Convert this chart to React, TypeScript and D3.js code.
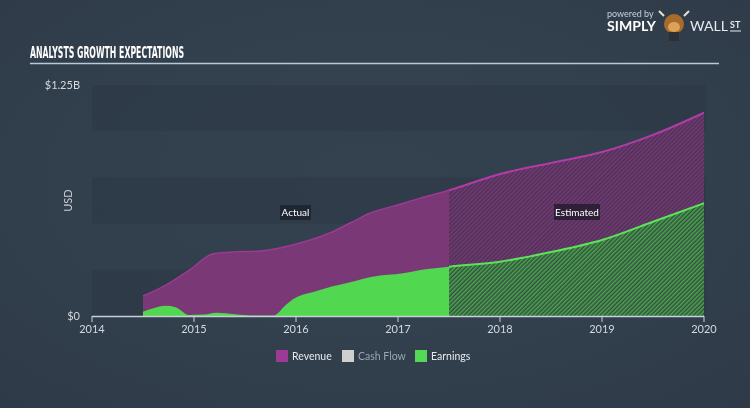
import React from 'react';
import * as d3 from 'd3';

// revenue + earnings (USD billions), actual up to mid 2017, estimates after
const dates = [2014.5, 2014.7, 2014.96, 2015.18, 2015.35, 2015.65, 2015.84, 2016.04, 2016.33, 2016.53, 2016.73, 2017.02, 2017.22, 2017.5, 2018, 2018.5, 2019, 2019.5, 2020];
const revenue = [0.108, 0.16, 0.25, 0.335, 0.345, 0.352, 0.368, 0.395, 0.449, 0.503, 0.557, 0.605, 0.638, 0.68, 0.768, 0.828, 0.887, 0.98, 1.10];

const earnDates = [2014.5, 2014.62, 2014.72, 2014.82, 2014.95, 2015.1, 2015.22, 2015.4, 2015.6, 2015.78, 2015.9, 2015.97, 2016.05, 2016.17, 2016.35, 2016.55, 2016.75, 2017.05, 2017.22, 2017.5, 2018, 2018.5, 2019, 2019.5, 2020];
const earnings = [0.023, 0.045, 0.055, 0.048, 0.006, 0.008, 0.018, 0.01, 0.003, 0.003, 0.06, 0.09, 0.112, 0.13, 0.159, 0.186, 0.213, 0.231, 0.249, 0.267, 0.294, 0.346, 0.411, 0.51, 0.61];

const estimateStart = 2017.5;
const yearTicks = [2014, 2015, 2016, 2017, 2018, 2019, 2020];
const yTickValues = [0, 1.25];
const yTickLabels = ['$0', '$1.25B'];
const legendItems = [
  { name: 'Revenue', color: '#9c3a96', text: '#e6eaee' },
  { name: 'Cash Flow', color: '#cfcfcf', text: '#9aa6b1' },
  { name: 'Earnings', color: '#55d855', text: '#e6eaee' },
];

const W = 750;
const H = 408;
const font = 'Lato, "Open Sans", sans-serif';

export default function App() {
  const x = d3.scaleLinear().domain([2014, 2020]).range([92, 704]);
  const y = d3.scaleLinear().domain([0, 1.25]).range([316, 85]);

  const revPts = dates.map((d, i) => [d, revenue[i]] as [number, number]);
  const earnPts = earnDates.map((d, i) => [d, earnings[i]] as [number, number]);

  const area = d3.area<[number, number]>()
    .x(d => x(d[0]))
    .y0(y(0))
    .y1(d => y(d[1]))
    .curve(d3.curveMonotoneX);
  const line = d3.line<[number, number]>()
    .x(d => x(d[0]))
    .y(d => y(d[1]))
    .curve(d3.curveMonotoneX);

  const xs = x(estimateStart);
  // background bands
  const bands = d3.range(5);
  const bandH = (y(0) - y(1.25)) / 5;

  return (
    <div style={{ position: 'fixed', left: 0, top: 0 }}>
      <svg width={W} height={H} style={{ display: 'block' }}>
        <defs>
          <radialGradient id="bg" cx="50%" cy="45%" r="75%">
            <stop offset="0%" stopColor="#374554" />
            <stop offset="100%" stopColor="#2e3a47" />
          </radialGradient>
          <pattern id="hatchRev" width="3" height="3" patternUnits="userSpaceOnUse" patternTransform="rotate(45)">
            <rect width="3" height="3" fill="#4b3153" />
            <rect width="1.5" height="3" fill="#763a76" />
          </pattern>
          <pattern id="hatchEarn" width="3" height="3" patternUnits="userSpaceOnUse" patternTransform="rotate(45)">
            <rect width="3" height="3" fill="#30503d" />
            <rect width="1.5" height="3" fill="#4ea451" />
          </pattern>
          <clipPath id="clipActual">
            <rect x={0} y={0} width={xs} height={H} />
          </clipPath>
          <clipPath id="clipEst">
            <rect x={xs} y={0} width={W - xs} height={H} />
          </clipPath>
        </defs>

        <rect width={W} height={H} fill="url(#bg)" />

        {/* header */}
        <text x={30} y={58} fill="#ffffff" fontFamily='"DejaVu Sans Condensed", "DejaVu Sans", sans-serif' fontWeight="bold" fontSize={15} textLength={154} lengthAdjust="spacingAndGlyphs">
          ANALYSTS GROWTH EXPECTATIONS
        </text>
        <line x1={30} x2={719} y1={63.5} y2={63.5} stroke="#b9cad6" strokeWidth={1.5} />

        {/* logo */}
        <text x={607} y={17} fill="#c9d1d8" fontFamily={font} fontSize={9}>powered by</text>
        <text x={607} y={31} fill="#ffffff" fontFamily={font} fontWeight="bold" fontSize={13} textLength={49} lengthAdjust="spacingAndGlyphs">SIMPLY</text>
        <g transform="translate(674,24)">
          <circle r={10} fill="#a86b2c" />
          <ellipse cx={0} cy={3} rx={6} ry={5} fill="#d9a35a" />
          <rect x={-5} y={8} width={10} height={9} fill="#2b2f36" />
          <path d="M-10,-8 L-15,-13 M10,-8 L15,-13" stroke="#e8e0d0" strokeWidth={2} />
        </g>
        <text x={690} y={31} fill="#e6eaee" fontFamily={font} fontSize={13} textLength={38} lengthAdjust="spacingAndGlyphs">WALL</text>
        <text x={730} y={28} fill="#e6eaee" fontFamily={font} fontWeight="bold" fontSize={9}>ST</text>
        <line x1={730} x2={741} y1={31} y2={31} stroke="#e6eaee" strokeWidth={1} />

        {/* plot background */}
        <rect x={92} y={y(1.25)} width={614} height={y(0) - y(1.25)} fill="#303c4a" opacity={0.5} />
        {bands.map(i => (
          <rect key={i} x={92} y={y(1.25) + i * bandH} width={614} height={bandH}
            fill={i % 2 === 0 ? '#2c3744' : '#35424f'} opacity={0.45} />
        ))}

        {/* actual */}
        <g clipPath="url(#clipActual)">
          <path d={area(revPts) || ''} fill="#7b3877" />
          <path d={line(revPts) || ''} fill="none" stroke="#9a3a92" strokeWidth={1.5} />
          <path d={area(earnPts) || ''} fill="#52d750" />
        </g>
        {/* estimated */}
        <g clipPath="url(#clipEst)">
          <path d={area(revPts) || ''} fill="url(#hatchRev)" />
          <path d={line(revPts) || ''} fill="none" stroke="#b23ca6" strokeWidth={2} />
          <path d={area(earnPts) || ''} fill="url(#hatchEarn)" />
          <path d={line(earnPts) || ''} fill="none" stroke="#5de35a" strokeWidth={2} />
        </g>

        {/* x axis */}
        <line x1={x(2014)} x2={x(2020)} y1={316.5} y2={316.5} stroke="#c6d0d8" strokeWidth={1.5} />
        {yearTicks.map(t => (
          <g key={t} transform={`translate(${x(t)},0)`}>
            <line y1={316} y2={322} stroke="#c6d0d8" strokeWidth={1} />
            <text y={333} textAnchor="middle" fill="#d2d9df" fontFamily={font} fontSize={11}>{t}</text>
          </g>
        ))}

        {/* y labels */}
        {yTickValues.map((v, i) => (
          <text key={v} x={80} y={y(v) + 4} textAnchor="end" fill="#d2d9df" fontFamily={font} fontSize={11}>
            {yTickLabels[i]}
          </text>
        ))}
        <text transform={`translate(72,${(y(0) + y(1.25)) / 2}) rotate(-90)`} textAnchor="middle" fill="#c6ced6" fontFamily={font} fontSize={11}>USD</text>

        {/* actual / estimated tags */}
        <rect x={280} y={205} width={31} height={15} fill="#1c2530" opacity={0.9} />
        <text x={295.5} y={216} textAnchor="middle" fill="#ffffff" fontFamily={font} fontSize={10}>Actual</text>
        <rect x={554} y={204} width={46} height={16} fill="#2a1d33" opacity={0.9} />
        <text x={577} y={216} textAnchor="middle" fill="#ffffff" fontFamily={font} fontSize={10}>Estimated</text>

        {/* legend */}
        {legendItems.map((d, i) => {
          const lx = [276, 342, 415][i];
          return (
            <g key={d.name} transform={`translate(${lx},350)`}>
              <rect width={12} height={12} fill={d.color} />
              <text x={16} y={10} fill={d.text} fontFamily={font} fontSize={10.5}>{d.name}</text>
            </g>
          );
        })}
      </svg>
    </div>
  );
}
